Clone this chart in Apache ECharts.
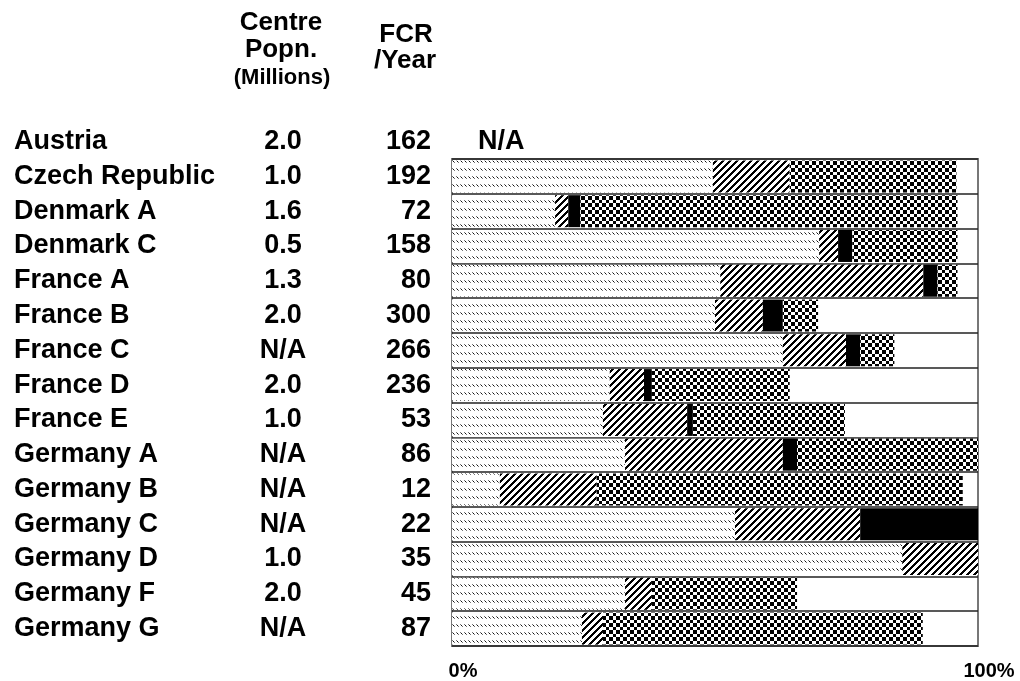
<!DOCTYPE html>
<html>
<head>
<meta charset="utf-8">
<script src="https://cdn.jsdelivr.net/npm/echarts@6/dist/echarts.min.js"></script>
<style>
  html, body { margin: 0; padding: 0; background: #fff; }
  #chart { width: 1020px; height: 681px; }
</style>
</head>
<body>
<div id="chart"></div>
<script>
// row labels (Austria has no bar, only N/A)
const centres = ['Austria', 'Czech Republic', 'Denmark A', 'Denmark C', 'France A', 'France B',
  'France C', 'France D', 'France E', 'Germany A', 'Germany B', 'Germany C', 'Germany D',
  'Germany F', 'Germany G'];
const popn = ['2.0', '1.0', '1.6', '0.5', '1.3', '2.0', 'N/A', '2.0', '1.0', 'N/A', 'N/A', 'N/A', '1.0', '2.0', 'N/A'];
const fcr = [162, 192, 72, 158, 80, 300, 266, 236, 53, 86, 12, 22, 35, 45, 87];

// bar segments in %, Czech Republic .. Germany G
const barCentres = centres.slice(1);
const fineHatch   = [49.6, 19.6, 69.8, 51.0, 50.0, 62.9, 30.0, 28.7, 32.9,  9.1, 53.8, 85.6, 32.9, 24.7];
const coarseHatch = [14.6,  2.5,  3.6, 38.6,  9.1, 12.0,  6.5, 16.0, 30.0, 18.4, 23.8, 14.4,  5.1,  4.0];
const solid       = [ 0,    2.3,  2.7,  2.7,  3.8,  2.7,  1.5,  1.1,  2.7,  0,   22.4,  0,    0,    0  ];
const checker     = [31.7, 71.7, 20.0,  3.8,  6.7,  6.5, 26.2, 28.9, 34.4, 69.6,  0,    0,   27.6, 60.8];

const FONT = '"Liberation Sans", Arial, sans-serif';

// little canvas tiles used as fill patterns
function tile(w, h, paint) {
  const c = document.createElement('canvas');
  c.width = w; c.height = h;
  const ctx = c.getContext('2d');
  ctx.fillStyle = '#fff';
  ctx.fillRect(0, 0, w, h);
  for (let y = 0; y < h; y++) {
    for (let x = 0; x < w; x++) {
      const col = paint(x, y);
      if (col) { ctx.fillStyle = col; ctx.fillRect(x, y, 1, 1); }
    }
  }
  return { image: c, repeat: 'repeat' };
}
const finePat = tile(4, 8, (x, y) => {
  if (y === x && x === 1) return '#111';
  if (y === x && x < 3) return '#777';
  return null;
});
const coarsePat = tile(7, 7, (x, y) => ((x + y) % 7 < 3 ? '#000' : null));
const checkPat = tile(7, 7, (x, y) => ((x < 4) === (y < 4) ? '#000' : null));

const labelFmt = (value) => {
  const i = centres.indexOf(value);
  return '{n|' + value + '}{p|' + popn[i] + '}{f|' + fcr[i] + '}';
};
const txt = { fontSize: 27, fontWeight: 'bold', fontFamily: FONT, color: '#000' };
const rowLabel = {
  formatter: labelFmt,
  align: 'left',
  margin: 438,
  rich: {
    n: Object.assign({ width: 224, align: 'left' }, txt),
    p: Object.assign({ width: 90, align: 'center' }, txt),
    f: Object.assign({ width: 103, align: 'right' }, txt)
  }
};

function seg(name, data, color) {
  return {
    name: name, type: 'bar', stack: 'total', data: data,
    xAxisIndex: 0, yAxisIndex: 0,
    barCategoryGap: '8%',
    itemStyle: { color: color },
    silent: true
  };
}

const myChart = echarts.init(document.getElementById('chart'));
const option = {
  animation: false,
  backgroundColor: '#fff',
  grid: [
    { left: 452, right: 42, top: 159, bottom: 34, show: true, borderColor: '#777', borderWidth: 2 },
    { left: 452, right: 42, top: 124, height: 35 }
  ],
  xAxis: [
    {
      gridIndex: 0, type: 'value', min: 0, max: 100, interval: 100,
      axisLine: { show: false }, axisTick: { show: false }, splitLine: { show: false },
      axisLabel: {
        formatter: '{value}%', margin: 15, padding: [0, 0, 0, 22],
        fontSize: 20, fontWeight: 'bold', fontFamily: FONT, color: '#000'
      }
    },
    { gridIndex: 1, type: 'value', min: 0, max: 100, show: false }
  ],
  yAxis: [
    {
      gridIndex: 0, type: 'category', inverse: true, data: barCentres,
      axisLine: { show: false }, axisTick: { show: false },
      splitLine: { show: true, lineStyle: { color: '#222', width: 1.5 } },
      axisLabel: rowLabel
    },
    {
      gridIndex: 1, type: 'category', inverse: true, data: [centres[0]],
      axisLine: { show: false }, axisTick: { show: false }, splitLine: { show: false },
      axisLabel: rowLabel
    }
  ],
  graphic: [
    { type: 'text', x: 281, y: 23, style: { text: 'Centre', font: 'bold 26px ' + FONT, align: 'center', verticalAlign: 'middle', fill: '#000' } },
    { type: 'text', x: 281, y: 50, style: { text: 'Popn.', font: 'bold 26px ' + FONT, align: 'center', verticalAlign: 'middle', fill: '#000' } },
    { type: 'text', x: 282, y: 78, style: { text: '(Millions)', font: 'bold 22px ' + FONT, align: 'center', verticalAlign: 'middle', fill: '#000' } },
    { type: 'text', x: 406, y: 35, style: { text: 'FCR', font: 'bold 26px ' + FONT, align: 'center', verticalAlign: 'middle', fill: '#000' } },
    { type: 'text', x: 405, y: 61, style: { text: '/Year', font: 'bold 26px ' + FONT, align: 'center', verticalAlign: 'middle', fill: '#000' } }
  ],
  series: [
    seg('Fine hatch', fineHatch, finePat),
    seg('Coarse hatch', coarseHatch, coarsePat),
    seg('Solid', solid, '#000'),
    seg('Checker', checker, checkPat),
    {
      name: 'Austria', type: 'scatter', xAxisIndex: 1, yAxisIndex: 1,
      data: [[0, centres[0]]], symbolSize: 0, silent: true,
      itemStyle: { opacity: 1 },
      label: Object.assign({ show: true, position: 'right', distance: 26, formatter: 'N/A' }, txt)
    }
  ]
};
myChart.setOption(option);
window.addEventListener('resize', () => myChart.resize());
</script>
</body>
</html>
